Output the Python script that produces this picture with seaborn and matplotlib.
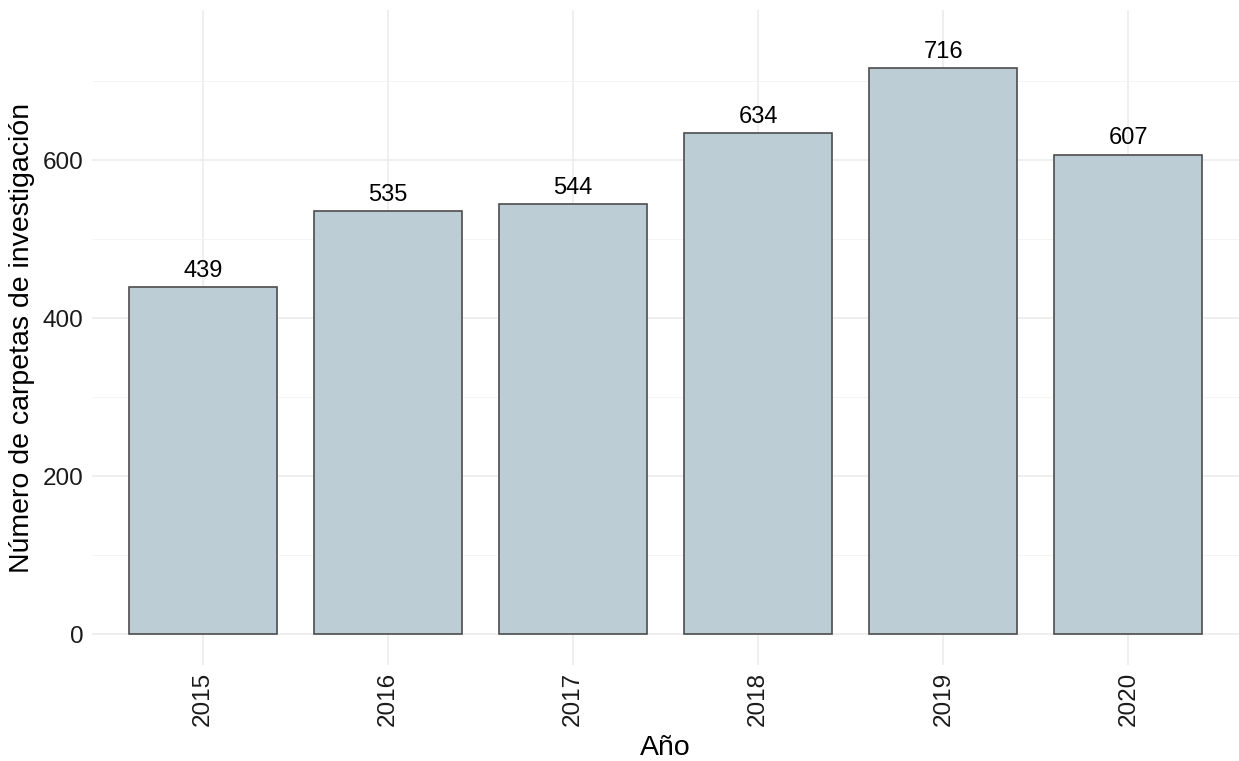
import matplotlib
matplotlib.use("Agg")
import matplotlib.pyplot as plt
import pandas as pd
import seaborn as sns

years = ["2015", "2016", "2017", "2018", "2019", "2020"]
carpetas = [439, 535, 544, 634, 716, 607]

df = pd.DataFrame({"anio": years, "carpetas": carpetas})

sns.set_theme(style="whitegrid")
plt.rcParams["font.family"] = ["Liberation Sans", "DejaVu Sans"]

fig = plt.figure(figsize=(12.39, 7.61), dpi=100)
ax = fig.add_axes([0.0743, 0.126, 0.926, 0.861])

sns.barplot(data=df, x="anio", y="carpetas", color="#bccdd5", saturation=1,
            edgecolor="#4d4d4d", linewidth=1.2, width=0.8, ax=ax)

for i, v in enumerate(carpetas):
    ax.text(i, v + 7, str(v), ha="center", va="bottom", fontsize=17, color="black")

ax.set_xlim(-0.6, 5.6)
ax.set_ylim(-39, 790)
ax.set_yticks([0, 200, 400, 600])
ax.set_yticks([100, 300, 500, 700], minor=True)
ax.grid(True, which="major", color="#ebebeb", linewidth=1.1)
ax.grid(True, which="minor", axis="y", color="#f3f3f3", linewidth=0.6)
ax.set_axisbelow(True)
for s in ax.spines.values():
    s.set_visible(False)
ax.tick_params(axis="both", which="both", length=0, labelsize=17.5, labelcolor="#1a1a1a")
ax.tick_params(axis="y", pad=6)
ax.tick_params(axis="x", labelrotation=90, pad=5)
ax.set_xlabel("Año", fontsize=20.5, color="black", labelpad=6)
ax.set_ylabel("Número de carpetas de investigación", fontsize=20.5, color="black", labelpad=6)

fig.savefig("out.png", dpi=100, facecolor="white")
